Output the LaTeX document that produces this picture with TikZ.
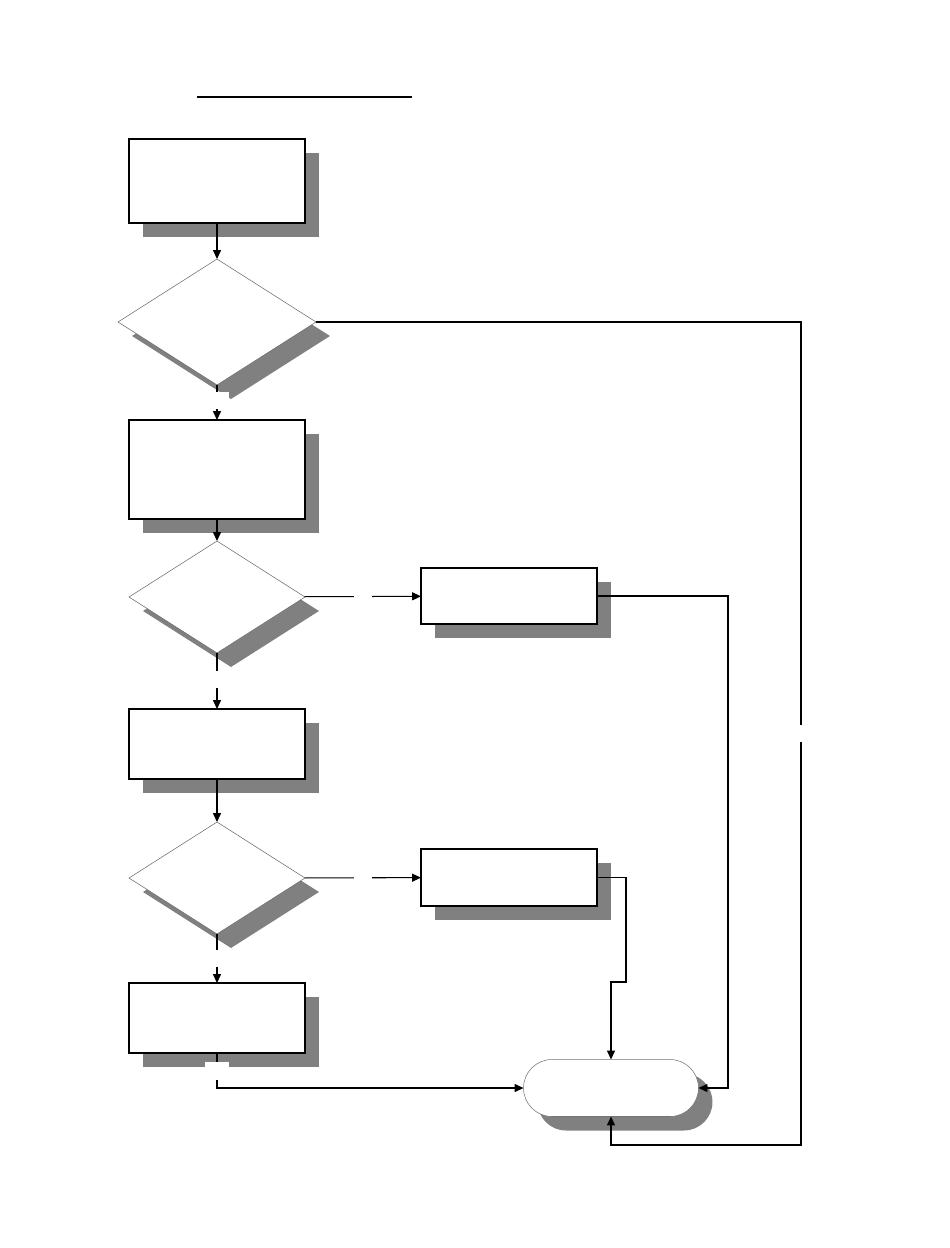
\documentclass[tikz,border=0pt]{standalone}
\usepackage{tikz}
\usetikzlibrary{arrows.meta,shapes.geometric,shapes.misc,shadows}

\begin{document}
\begin{tikzpicture}[x=0.02cm,y=-0.02cm,
  shade/.style={drop shadow={shadow xshift=0.28cm,shadow yshift=-0.28cm,fill=black!50,opacity=1}},
  box/.style={draw,line width=0.6pt,fill=white,shade,minimum width=3.52cm,inner sep=0pt,outer sep=0pt},
  decision/.style={diamond,draw=black!60,line width=0.3pt,fill=white,shade,inner sep=0pt,outer sep=0pt},
  term/.style={rounded rectangle,draw=black!55,line width=0.3pt,fill=white,shade,minimum width=3.5cm,minimum height=1.14cm,inner sep=0pt,outer sep=0pt},
  flow/.style={line width=0.6pt,-{Triangle[length=5pt,width=4.5pt]}},
  gap/.style={fill=white,inner sep=0pt,minimum width=0.5cm,minimum height=0.34cm}]
\useasboundingbox (0,0) rectangle (950,1248);
% title rule
\draw[line width=1.2pt] (197,97) -- (412,97);
% left column
\node[box,minimum height=1.68cm] (b1) at (217,181) {};
\node[decision,minimum width=3.96cm,minimum height=2.52cm] (d1) at (217,322) {};
\node[box,minimum height=1.98cm] (b2) at (217,469.5) {};
\node[decision,minimum width=3.52cm,minimum height=2.24cm] (d2) at (217,597) {};
\node[box,minimum height=1.4cm] (b4) at (217,744) {};
\node[decision,minimum width=3.52cm,minimum height=2.24cm] (d3) at (217,878) {};
\node[box,minimum height=1.4cm] (b6) at (217,1018) {};
% right column
\node[box,minimum height=1.12cm] (b3) at (509,596) {};
\node[box,minimum height=1.14cm] (b5) at (509,877.5) {};
\node[term] (end) at (611,1088) {};
% connectors
\draw[flow] (b1) -- (d1);
\draw[flow] (d1) -- node[gap,pos=0.43]{} (b2);
\draw[flow] (b2) -- (d2);
\draw[flow] (d2) -- node[gap,pos=0.48]{} (b4);
\draw[flow] (b4) -- (d3);
\draw[flow] (d3) -- node[gap,pos=0.5]{} (b6);
\draw[flow] (d2) -- node[gap,minimum width=0.36cm]{} (b3);
\draw[flow] (d3) -- node[gap,minimum width=0.36cm]{} (b5);
\draw[flow] (b3.east) -- ++(131,0) |- (end.east);
\draw[flow] (b5.east) -| (626,982) -| (end.north);
\draw[flow] (b6.south) |- node[gap,pos=0.25,minimum width=0.48cm,minimum height=0.36cm]{} (end.west);
\draw[flow] (d1.east) -- (801,322) -- node[gap,minimum width=0.3cm]{} (801,1145) -| (end.south);
\end{tikzpicture}
\end{document}
